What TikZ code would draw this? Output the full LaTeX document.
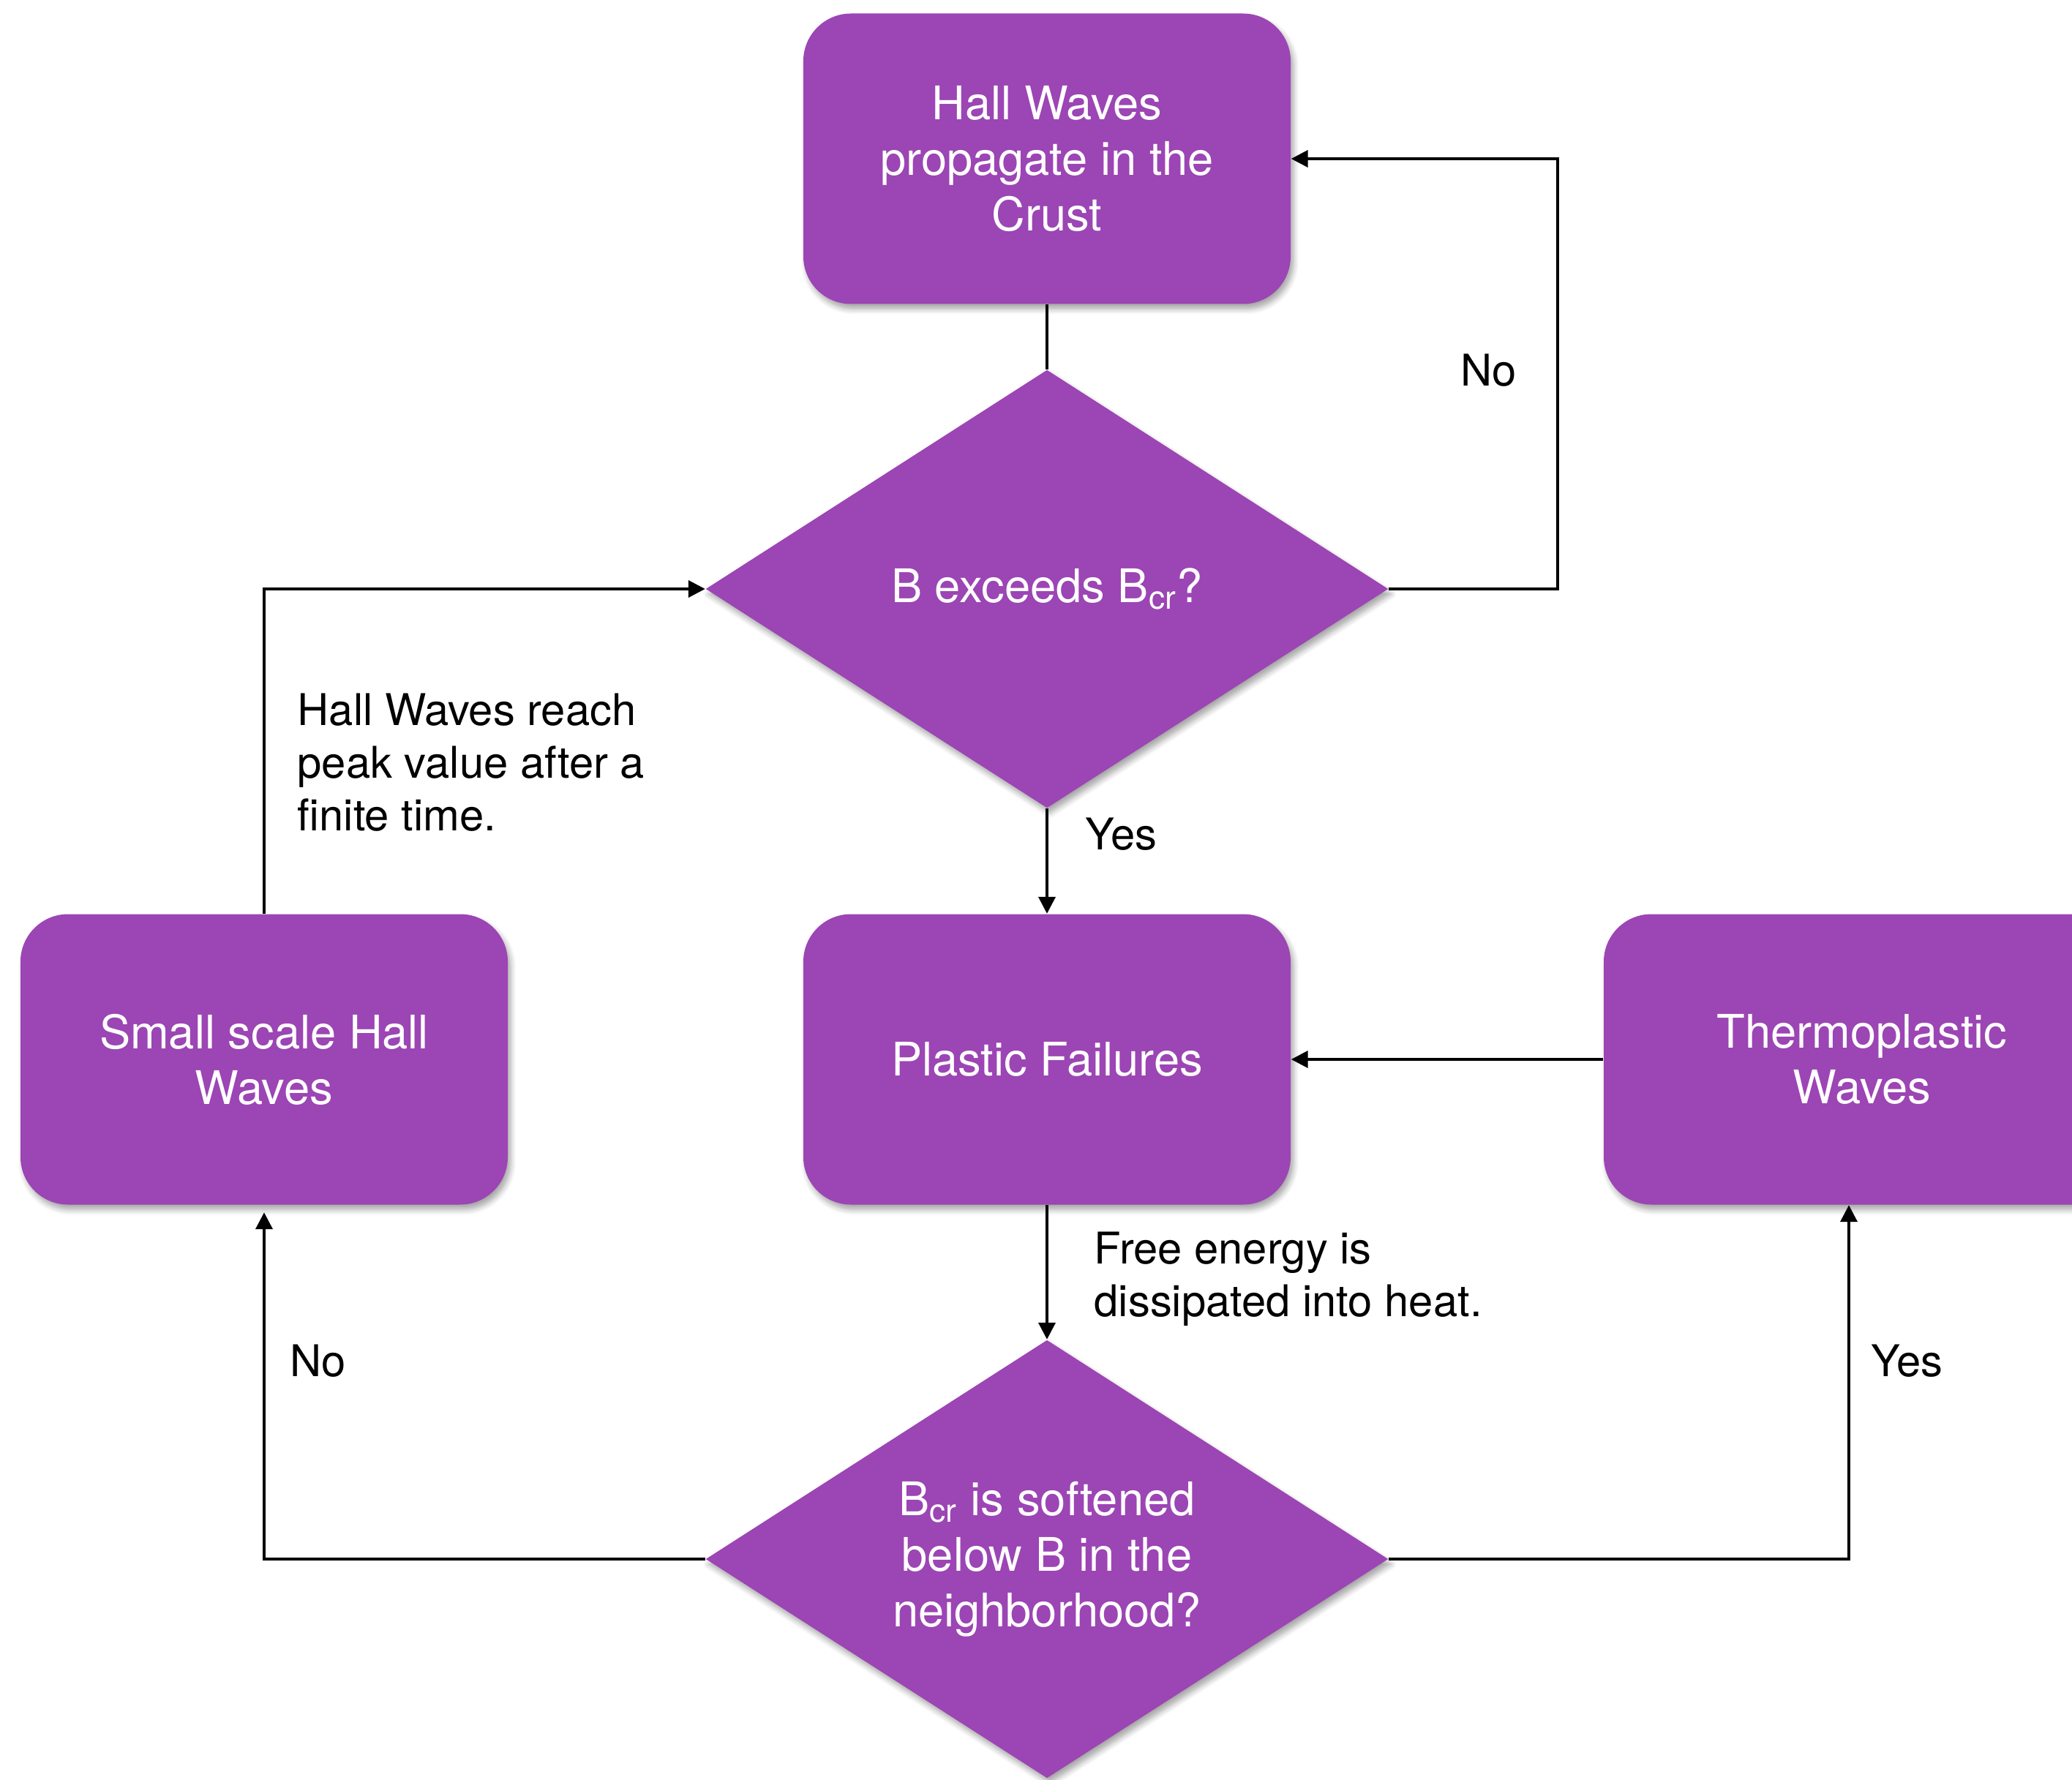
\documentclass[tikz,border=0pt]{standalone}
\usepackage{fontspec}
\setmainfont{TeX Gyre Heros}
\usetikzlibrary{shapes.geometric, arrows.meta, shadows.blur}
\definecolor{wavepurple}{RGB}{156,69,180}
\tikzset{
  stage/.style={rectangle, rounded corners=0.65cm, fill=wavepurple, text=white,
    minimum width=6.66cm, minimum height=3.97cm, align=center,
    font=\fontsize{18}{21.6}\selectfont,
    blur shadow={shadow xshift=0.04cm, shadow yshift=-0.07cm, shadow blur steps=6, shadow opacity=35}},
  query/.style={diamond, aspect=1.56, fill=wavepurple, text=white, inner sep=0pt,
    minimum width=9.33cm, minimum height=5.99cm, align=center,
    font=\fontsize{18}{21.6}\selectfont,
    blur shadow={shadow xshift=0.04cm, shadow yshift=-0.07cm, shadow blur steps=6, shadow opacity=35}},
  flow/.style={-{Triangle[length=0.23cm,width=0.23cm]}, line width=1.1pt},
  note/.style={font=\fontsize{17}{20.5}\selectfont, align=left, inner sep=0pt, anchor=west}
}
\begin{document}
\begin{tikzpicture}
    \useasboundingbox (0,0) rectangle (28.32,24.32);
    % Boxes
    \node[stage] (crust) at (14.31,22.15) {Hall Waves\\propagate in the\\Crust};
    \node[stage] (plastic) at (14.31,9.84) {Plastic Failures};
    \node[stage] (small) at (3.61,9.84) {Small scale Hall\\Waves};
    \node[stage, minimum width=7.06cm] (thermo) at (25.45,9.84) {Thermoplastic\\Waves};
    % Decisions
    \node[query] (exceed) at (14.31,16.27) {B exceeds B\textsubscript{cr}?};
    \node[query] (soften) at (14.31,3.01) {B\textsubscript{cr} is softened\\below B in the\\neighborhood?};
    % Labels
    \node[note] (noup) at (19.96,19.26) {No};
    \node[note] (peak) at (4.06,13.90) {Hall Waves reach\\peak value after a\\finite time.};
    \node[note] (yesdown) at (14.83,12.92) {Yes};
    \node[note] (heat) at (14.95,6.84) {Free energy is\\dissipated into heat.};
    \node[note] (noleft) at (3.96,5.72) {No};
    \node[note] (yesright) at (25.57,5.72) {Yes};
    % Arrows
    \draw[line width=1.1pt] (crust.south) -- (exceed.north);
    \draw[flow] (exceed.east) -- ++(2.31,0) |- (crust.east);
    \draw[flow] (small.north) |- (exceed.west);
    \draw[flow] (exceed.south) -- (plastic.north);
    \draw[flow] (thermo.west) -- (plastic.east);
    \draw[flow] (plastic.south) -- (soften.north);
    \draw[flow, shorten >=0.1cm] (soften.west) -| (small.south);
    \draw[flow] (soften.east) -| ([xshift=-0.18cm]thermo.south);
\end{tikzpicture}
\end{document}
